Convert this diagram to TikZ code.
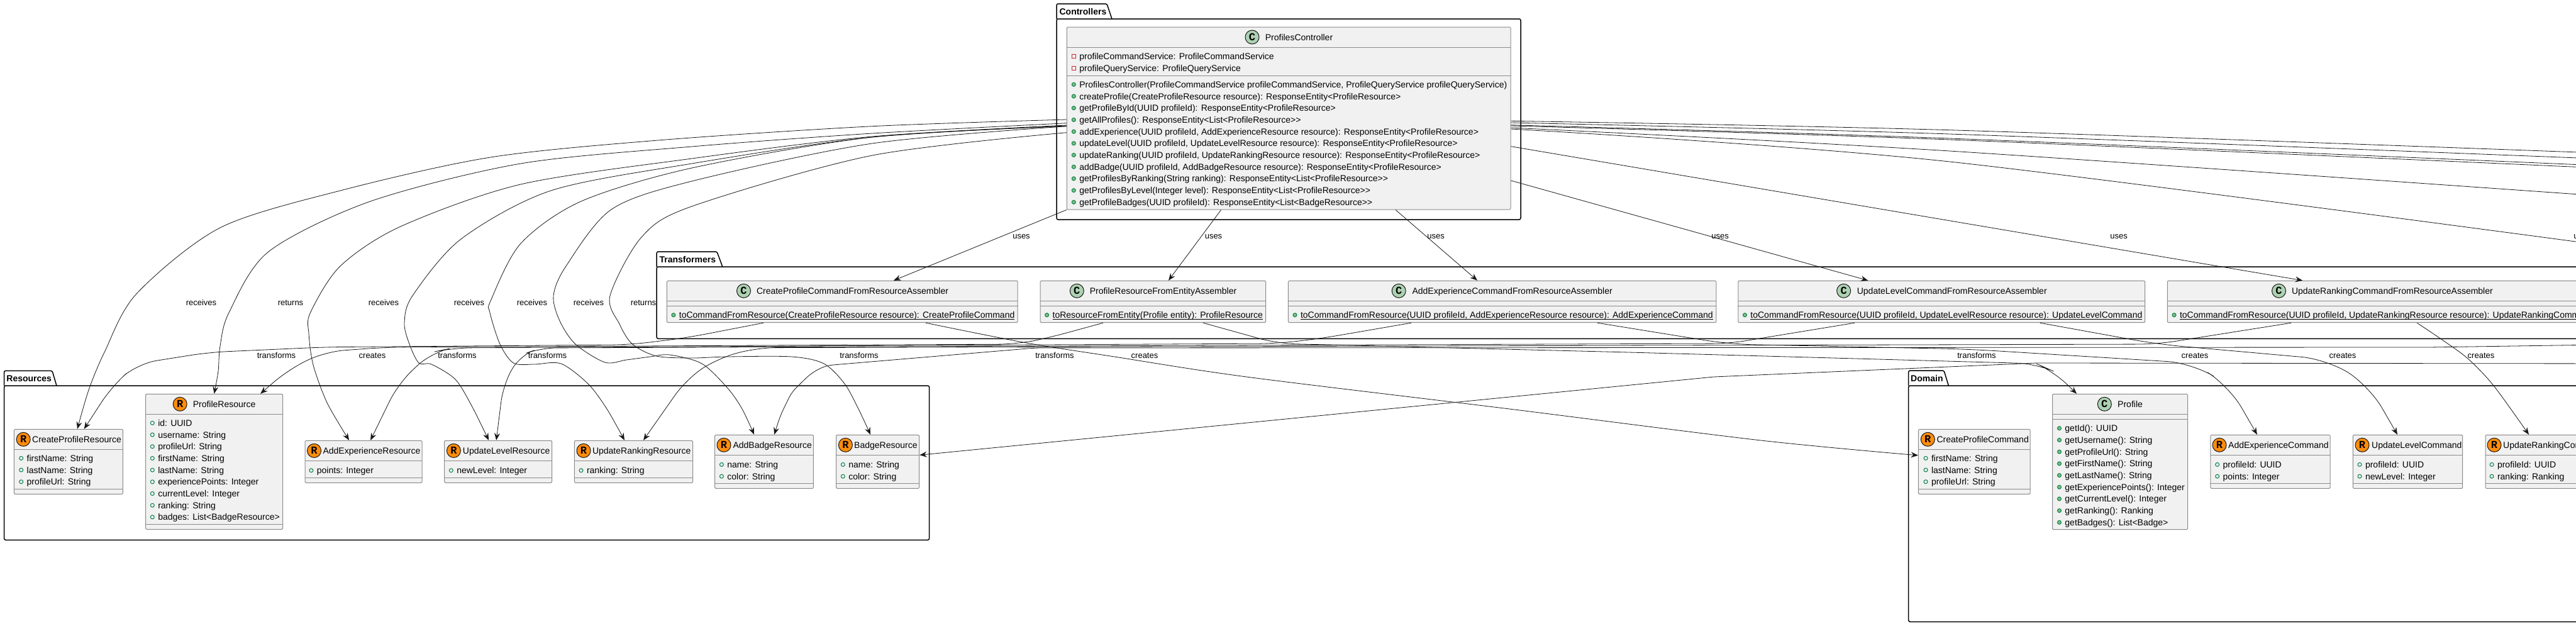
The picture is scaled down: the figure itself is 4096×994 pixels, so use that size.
\documentclass[tikz,border=0pt]{standalone}
\usepackage{fontspec}
\setmainfont{Liberation Sans}
\newfontfamily\spotfont{Liberation Mono}
\usetikzlibrary{arrows.meta}
\definecolor{boxfill}{HTML}{F1F1F1}
\definecolor{ink}{HTML}{181818}
\definecolor{spotC}{HTML}{ADD1B2}
\definecolor{spotR}{HTML}{FF8C0A}
\definecolor{pubgreen}{HTML}{038048}
\definecolor{pubfill}{HTML}{84BE84}
\definecolor{privred}{HTML}{C82930}
\tikzset{
	classbox/.style={draw=ink!50,line width=1pt,fill=boxfill,rounded corners=1.5pt,inner sep=0pt},
	classline/.style={draw=ink!50,line width=1pt},
	pkgline/.style={draw=black,line width=1.5pt,rounded corners=2.5pt},
	pkgname/.style={anchor=base west,inner sep=0pt,font=\fontsize{14}{16}\selectfont\bfseries},
	titletext/.style={anchor=base west,inner sep=0pt,font=\fontsize{14}{16}\selectfont},
	membertext/.style={anchor=base west,inner sep=0pt,font=\fontsize{14}{16}\selectfont},
	spot/.style={circle,draw=ink,line width=1pt,minimum size=22pt,inner sep=0pt,font=\fontsize{17}{17}\selectfont\spotfont\bfseries},
	fieldmark/.style={circle,draw=pubgreen,line width=1pt,minimum size=6pt,inner sep=0pt},
	methodmark/.style={circle,draw=pubgreen,fill=pubfill,line width=1pt,minimum size=6pt,inner sep=0pt},
	privmark/.style={rectangle,draw=privred,line width=1pt,minimum size=6pt,inner sep=0pt},
	edgelabel/.style={inner sep=0pt,font=\fontsize{13}{15}\selectfont},
	link/.style={draw=ink,line width=.8pt,-{Stealth[length=11.5pt,width=9pt,inset=4pt]}},
	farlink/.style={draw=ink,line width=.8pt},
}
\newcommand{\pkgframe}[7]{
	\draw[pkgline] (#1,#5)--(#1,#2)--(#3,#2)--(#4,#5);
	\draw[pkgline] (#1,#5)--(#6,#5)--(#6,#7)--(#1,#7)--cycle;
}
\newcommand{\umlclass}[9]{
	\node[classbox,minimum width={(#3-#2)*1pt},minimum height={(#5-#4)*1pt}](#1)at({(#2+#3)/2},{(#4+#5)/2}){};
	\draw[classline](#2,#4+32)--(#3,#4+32);
	\node[spot,fill=spot#6](#1-spot)at(#7,#4+16){#6};
	\node[titletext](#1-title)at(#8,#4+21){#9};
}
\newcommand{\members}[5]{
	\foreach \txt[count=\i from 1] in {#5}{
		\node[#2](#1-m\i)at(#3,{#4+(\i-1)*18.7}){};
		\node[membertext](#1-t\i)at({#3+8.8},{#4+(\i-1)*18.7+5}){\txt};
	}
}
\newcommand{\ulrow}[1]{\underline{\smash{#1}}}
\begin{document}
\begin{tikzpicture}[x=1pt,y=-1pt]
	\useasboundingbox(0,0)rectangle(4096,994);
	\clip(0,0)rectangle(4096,994);
	\pkgframe{1680}{6}{1760}{1768}{30}{2418}{349}
	\pkgframe{6.6}{589.3}{83}{90}{613}{1477.6}{858.3}
	\pkgframe{1044.2}{400}{1140}{1148.8}{424}{4300}{538.3}
	\pkgframe{3034.7}{589}{3091}{3098.3}{613}{4300}{988.3}
	\node[pkgname](controllers)at(1684.4,23){Controllers};
	\node[pkgname](resources)at(10.2,606){Resources};
	\node[pkgname](transformers)at(1048.4,417){Transformers};
	\node[pkgname](domain)at(3038,606){Domain};

	\umlclass{ctrl}{1696.4}{2402}{43}{333}{C}{1991}{2011.6}{ProfilesController}
	\umlclass{cpa}{1060.4}{1618.2}{446.3}{512.7}{C}{1182.5}{1202.8}{CreateProfileCommandFromResourceAssembler}
	\umlclass{pra}{1654}{2012.6}{446.3}{512.7}{C}{1712.3}{1732.6}{ProfileResourceFromEntityAssembler}
	\umlclass{aea}{2048.4}{2728.8}{446.3}{512.7}{C}{2224.2}{2245.3}{AddExperienceCommandFromResourceAssembler}
	\umlclass{ula}{2763.8}{3410.7}{446.3}{512.7}{C}{2931.6}{2952.6}{UpdateLevelCommandFromResourceAssembler}
	\umlclass{ura}{3446.3}{4130}{446.3}{512.7}{C}{3623.5}{3643.8}{UpdateRankingCommandFromResourceAssembler}
	\umlclass{cpr}{22.4}{195.4}{682.3}{785.3}{R}{37.2}{51}{CreateProfileResource}
	\umlclass{pr}{231.6}{449.5}{626.3}{841.3}{R}{286.2}{306.6}{ProfileResource}
	\umlclass{aer}{485.2}{671}{700.3}{767.3}{R}{499.5}{513.3}{AddExperienceResource}
	\umlclass{ulr}{706.6}{877.6}{700.3}{767.3}{R}{721.4}{735.7}{UpdateLevelResource}
	\umlclass{urr}{913.3}{1101.5}{700.3}{767.3}{R}{928}{941.8}{UpdateRankingResource}
	\umlclass{abr}{1136.7}{1293.4}{691.3}{776.3}{R}{1151}{1165.3}{AddBadgeResource}
	\umlclass{br}{1329.6}{1461.7}{691.3}{776.3}{R}{1344.4}{1358}{BadgeResource}
	\umlclass{cpc}{3050.4}{3228}{682.3}{785.3}{R}{3065.3}{3079.3}{CreateProfileCommand}
	\umlclass{prof}{3263.6}{3478.5}{626.3}{841.7}{C}{3346.3}{3367}{Profile}
	\umlclass{aec}{3514.9}{3705}{691.3}{776.3}{R}{3529}{3543}{AddExperienceCommand}
	\umlclass{ulc}{3741.3}{3915.7}{691.3}{776.3}{R}{3756}{3771}{UpdateLevelCommand}
	\umlclass{urc}{3952}{4148}{691.3}{776.3}{R}{3966}{3980}{UpdateRankingCommand}

	\foreach \nm/\yy in {ctrl/120,cpa/486.3,pra/486.3,aea/486.3,ula/486.3,ura/486.3,cpr/777.3,pr/833.3,aer/759.3,ulr/759.3,urr/759.3,abr/768.3,br/768.3,cpc/777.3,prof/666.3,aec/768.3,ulc/768.3,urc/768.3}
		\draw[classline](\nm.west|-0,\yy)--(\nm.east|-0,\yy);

	\members{ctrlF}{privmark}{1707.3}{89.3}{profileCommandService: ProfileCommandService,profileQueryService: ProfileQueryService}
	\members{ctrlM}{methodmark}{1707.3}{134.3}{{ProfilesController(ProfileCommandService profileCommandService, ProfileQueryService profileQueryService)},createProfile(CreateProfileResource resource): ResponseEntity<ProfileResource>,getProfileById(UUID profileId): ResponseEntity<ProfileResource>,getAllProfiles(): ResponseEntity<List<ProfileResource>{}>,{addExperience(UUID profileId, AddExperienceResource resource): ResponseEntity<ProfileResource>},{updateLevel(UUID profileId, UpdateLevelResource resource): ResponseEntity<ProfileResource>},{updateRanking(UUID profileId, UpdateRankingResource resource): ResponseEntity<ProfileResource>},{addBadge(UUID profileId, AddBadgeResource resource): ResponseEntity<ProfileResource>},getProfilesByRanking(String ranking): ResponseEntity<List<ProfileResource>{}>,getProfilesByLevel(Integer level): ResponseEntity<List<ProfileResource>{}>,getProfileBadges(UUID profileId): ResponseEntity<List<BadgeResource>{}>}
	\members{cpa}{methodmark}{1070.9}{500.7}{\ulrow{toCommandFromResource(CreateProfileResource resource): CreateProfileCommand}}
	\members{pra}{methodmark}{1664.6}{500.7}{\ulrow{toResourceFromEntity(Profile entity): ProfileResource}}
	\members{aea}{methodmark}{2059}{500.7}{\ulrow{toCommandFromResource(UUID profileId, AddExperienceResource resource): AddExperienceCommand}}
	\members{ula}{methodmark}{2774.4}{500.7}{\ulrow{toCommandFromResource(UUID profileId, UpdateLevelResource resource): UpdateLevelCommand}}
	\members{ura}{methodmark}{3457}{500.7}{\ulrow{toCommandFromResource(UUID profileId, UpdateRankingResource resource): UpdateRankingCommand}}
	\members{cpr}{fieldmark}{33.7}{728.3}{firstName: String,lastName: String,profileUrl: String}
	\members{pr}{fieldmark}{242.3}{672.3}{id: UUID,username: String,profileUrl: String,firstName: String,lastName: String,experiencePoints: Integer,currentLevel: Integer,ranking: String,badges: List<BadgeResource>}
	\members{aer}{fieldmark}{494.9}{747.7}{points: Integer}
	\members{ulr}{fieldmark}{717.3}{747.7}{newLevel: Integer}
	\members{urr}{fieldmark}{924}{747.7}{ranking: String}
	\members{abr}{fieldmark}{1147.4}{738.4}{name: String,color: String}
	\members{br}{fieldmark}{1340.3}{738.4}{name: String,color: String}
	\members{cpc}{fieldmark}{3062}{728.3}{firstName: String,lastName: String,profileUrl: String}
	\members{prof}{methodmark}{3274.4}{680.7}{getId(): UUID,getUsername(): String,getProfileUrl(): String,getFirstName(): String,getLastName(): String,getExperiencePoints(): Integer,getCurrentLevel(): Integer,getRanking(): Ranking,getBadges(): List<Badge>}
	\members{aec}{fieldmark}{3525.6}{738.4}{profileId: UUID,points: Integer}
	\members{ulc}{fieldmark}{3752}{738.4}{profileId: UUID,newLevel: Integer}
	\members{urc}{fieldmark}{3962}{738.4}{profileId: UUID,ranking: Ranking}

	\coordinate(farA)at(4200,245.7);
	\coordinate(farB)at(4200,255);
	\coordinate(farC)at(4200,266);
	\coordinate(farD)at(4200,270);
	\coordinate(farE)at(4200,316);
	\coordinate(farF)at(4200,398);
	\coordinate(farG)at(4200,547);
	\coordinate(farH)at(4200,578);

	\draw[link](ctrl.south west)--([xshift=81.7pt]cpa.north);
	\draw[link]([xshift=-107.6pt]ctrl.south)--([xshift=24.7pt]pra.north);
	\draw[link]([xshift=169.8pt]ctrl.south)--([xshift=-39.6pt]aea.north);
	\draw[link]([yshift=-99pt]ctrl.east)--([xshift=-117pt]ula.north);
	\draw[link]([yshift=-44.7pt]ctrl.east)--([xshift=-127pt]ura.north);
	\draw[farlink] plot[smooth] coordinates{([yshift=-4.3pt]ctrl.east)(3100,206.7)(farA)};
	\draw[farlink] plot[smooth] coordinates{([yshift=-7pt]ctrl.east)(3100,213)(farB)};
	\draw[farlink] plot[smooth] coordinates{([yshift=-10.7pt]ctrl.east)(3100,220)(farC)};
	\draw[farlink] plot[smooth] coordinates{([yshift=-12pt]ctrl.east)(3100,222)(farD)};
	\draw[farlink] plot[smooth] coordinates{([yshift=-15pt]ctrl.east)(3100,240)(farE)};
	\draw[farlink] plot[smooth] coordinates{([yshift=-17pt]ctrl.east)(3100,257)(farF)};

	\draw[link] plot[smooth] coordinates{([yshift=-2pt]ctrl.west)(1387,200.7)(1050,222.7)(780,250)(541,303)(350,362)(217,467)(166,560)(141,620)([xshift=14.1pt]cpr.north)};
	\draw[link] plot[smooth] coordinates{([yshift=-7.7pt]ctrl.west)(1387,212)(1100,233)(828,260)(589,320)(427,400)(364,497)(350,550)(347,590)(pr.north)};
	\draw[link] plot[smooth] coordinates{([yshift=-11pt]ctrl.west)(1387,217)(1100,252)(828,293)(637,360)(541,423)(493.5,497)(491,530)(498,580)(520,640)([xshift=-23pt]aer.north)};
	\draw[link] plot[smooth] coordinates{([yshift=-12pt]ctrl.west)(1387,218)(1100,260)(876,303)(733,380)(656,470)(643,513)(651,547)(666,577)(686,579)(724,603)(750,645)([xshift=-15pt]ulr.north)};
	\draw[link] plot[smooth] coordinates{([yshift=-12.7pt]ctrl.west)(1387,218)(1100,267)(924,320)(828,387)(780.6,477)(779,497)(795,547)(816.5,577)(850,579)(892,578)(935,610)(965,650)([xshift=-14.4pt]urr.north)};
	\draw[link] plot[smooth] coordinates{([yshift=-12.7pt]ctrl.west)(1387,228)(1100,288)(972,333)(900,423)(880,470)(890,510)(915,547)(962,576)(996,572)(1034,567)(1065,564)(1116,578)(1157,617)(1180,650)([xshift=-16pt]abr.north)};
	\draw[link] plot[smooth] coordinates{([yshift=-22.7pt]ctrl.west)(1387,247)(1100,328)(1020,377)(970,470)(985,515)(1005.5,547)(1044,566)(1100,569)(1157,567)(1259,567)(1310,578)(1343,610)(1365,650)([xshift=-11.6pt]br.north)};

	\draw[link,rounded corners=30pt]([xshift=-125.3pt]cpa.south)--(1091,537)--(1000,548)--(517,551.7)--(332,560)--(219,578)--(178.6,613)--([xshift=24.8pt]cpr.north);
	\draw[link,rounded corners=30pt]([xshift=-79.3pt]pra.south)--(1667,537)--(1617,547)--(613,552)--(517,559)--(459,587)--([xshift=73.5pt]pr.north);
	\draw[link,rounded corners=30pt]([xshift=-144.6pt]aea.south)--(2100,538)--(2031,546)--(720,553)--(686,560)--(633,610)--([xshift=11pt]aer.north);
	\draw[link,rounded corners=25pt]([xshift=-138.25pt]ula.south)--(2749,546)--(860,553)--(826,565)--(800,613)--([xshift=-3pt]ulr.north);
	\draw[link,rounded corners=30pt]([xshift=-145pt]ura.south)--(3430,547)--(1203,552.7)--(1140,570)--(1091,603)--([xshift=15.6pt]urr.north);
	\draw[link,rounded corners=10pt](farG)--(3862,552)--(1646,553)--(1313,581)--(1290,593)--(1259,623)--(1241,660)--([xshift=16pt]abr.north);
	\draw[link](farH)--(3238,577)--(2725,599)--([yshift=10.5pt]br.east);
	\draw[link] plot[smooth] coordinates{([xshift=132.7pt]cpa.south)(1632,545)(1772,567)(1982,599)(2400,650)(2800,700)([yshift=10pt]cpc.west)};
	\draw[link,rounded corners=30pt]([xshift=79.7pt]pra.south)--(2031,546)--(2591,560)--(3238,578)--(3265,590)--([xshift=-69pt]prof.north);
	\draw[link,rounded corners=40pt]([xshift=151.4pt]aea.south)--(2749,547)--(3130,555)--(3486,577)--(3544,613)--([xshift=-21pt]aec.north);
	\draw[link,rounded corners=40pt]([xshift=156.4pt]ula.south)--(3430,547)--(3700,571)--(3767,613)--([xshift=-16.5pt]ulc.north);
	\draw[link] plot[smooth] coordinates{([xshift=55pt]ura.south)(3883,540)(3924,570)(3965,613)([xshift=-29pt]urc.north)};

	\foreach \x/\t[count=\i from 1] in {1624/uses,1929.5/uses,2283/uses,2735/uses,3369/uses,4106/uses}
		\node[edgelabel](usesl\i)at(\x,376){\t};
	\foreach \x/\t[count=\i from 1] in {320/receives,462/returns,610/receives,746/receives,846/receives,936/receives,1023/returns}
		\node[edgelabel](recvl\i)at(\x,481){\t};
	\foreach \x/\t[count=\i from 1] in {439.5/transforms,592/creates,727/transforms,870.5/transforms,1366/transforms,1677/transforms,1820/creates,3143/transforms,3490/creates,3725/creates,3945/creates}
		\node[edgelabel](crossl\i)at(\x,565){\t};
\end{tikzpicture}
\end{document}
